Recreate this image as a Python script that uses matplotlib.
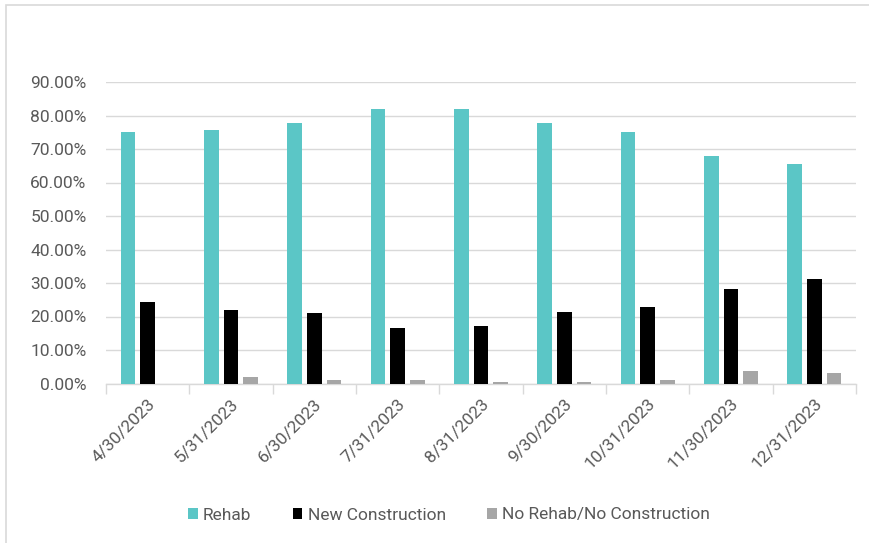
import matplotlib
matplotlib.use("Agg")
import matplotlib.pyplot as plt
import numpy as np
from matplotlib.patches import Rectangle
from matplotlib.ticker import PercentFormatter, FixedLocator

dates = ["4/30/2023", "5/31/2023", "6/30/2023", "7/31/2023", "8/31/2023",
         "9/30/2023", "10/31/2023", "11/30/2023", "12/31/2023"]
rehab = [75.2, 75.7, 77.7, 81.9, 81.9, 77.7, 75.2, 68.0, 65.5]
new_construction = [24.2, 21.8, 21.0, 16.6, 17.1, 21.4, 22.8, 28.1, 31.1]
no_rehab_no_construction = [0.0, 1.8, 0.9, 0.9, 0.3, 0.4, 0.9, 3.6, 3.0]
series_names = ["Rehab", "New Construction", "No Rehab/No Construction"]
series_colors = ["#5bc6c6", "#000000", "#a6a6a6"]
yticks = [0, 10, 20, 30, 40, 50, 60, 70, 80, 90]

plt.rcParams["font.family"] = ["Roboto", "DejaVu Sans"]
text_color = "#595959"
font_size = 12.5

W, H = 869, 543
fig = plt.figure(figsize=(W / 100, H / 100), dpi=100)
fig.patch.set_facecolor("white")

# outer chart frame (cropped on the right and bottom)
fig.patches.append(Rectangle((6 / W, -0.1), 1.2, 1.1 - 5 / H,
                             transform=fig.transFigure, fill=False,
                             edgecolor="#d9d9d9", linewidth=1.2))

left, right, bottom, top = 106, 856, 383.5, 82
ax = fig.add_axes([left / W, 1 - bottom / H, (right - left) / W, (bottom - top) / H])

x = np.arange(len(dates))
width = 0.175
offsets = [-0.235, 0.0, 0.235]
for vals, name, col, off in zip([rehab, new_construction, no_rehab_no_construction],
                                series_names, series_colors, offsets):
    ax.bar(x + off, vals, width=width, color=col, label=name, zorder=3)

ax.set_xlim(-0.5, len(dates) - 0.5)
ax.set_ylim(0, 90)
ax.set_yticks(yticks)
ax.yaxis.set_major_formatter(PercentFormatter(decimals=2))
ax.grid(axis="y", color="#d9d9d9", linewidth=1, zorder=0)
ax.set_axisbelow(True)

for s in ["top", "right", "left"]:
    ax.spines[s].set_visible(False)
ax.spines["bottom"].set_color("#d9d9d9")
ax.spines["bottom"].set_linewidth(1)

ax.tick_params(axis="y", length=0, pad=14, labelsize=font_size, labelcolor=text_color)
ax.xaxis.set_major_locator(FixedLocator(np.arange(-0.5, len(dates), 1.0)))
ax.xaxis.set_major_formatter(plt.NullFormatter())
ax.xaxis.set_minor_locator(FixedLocator(x))
ax.set_xticklabels(dates, minor=True)
ax.tick_params(axis="x", which="major", length=7, color="#d9d9d9", width=1)
ax.tick_params(axis="x", which="minor", length=0, pad=9, labelsize=font_size,
               labelcolor=text_color)
for lbl in ax.get_xticklabels(minor=True):
    lbl.set_rotation(45)
    lbl.set_ha("right")
    lbl.set_rotation_mode("anchor")

leg = fig.legend(loc="center", bbox_to_anchor=(449 / W, 1 - 515 / H), ncol=3,
                 frameon=False, fontsize=font_size, handlelength=0.55, handleheight=0.55,
                 handletextpad=0.3, columnspacing=2.4)
for t in leg.get_texts():
    t.set_color(text_color)

fig.savefig("out.png", dpi=100)
